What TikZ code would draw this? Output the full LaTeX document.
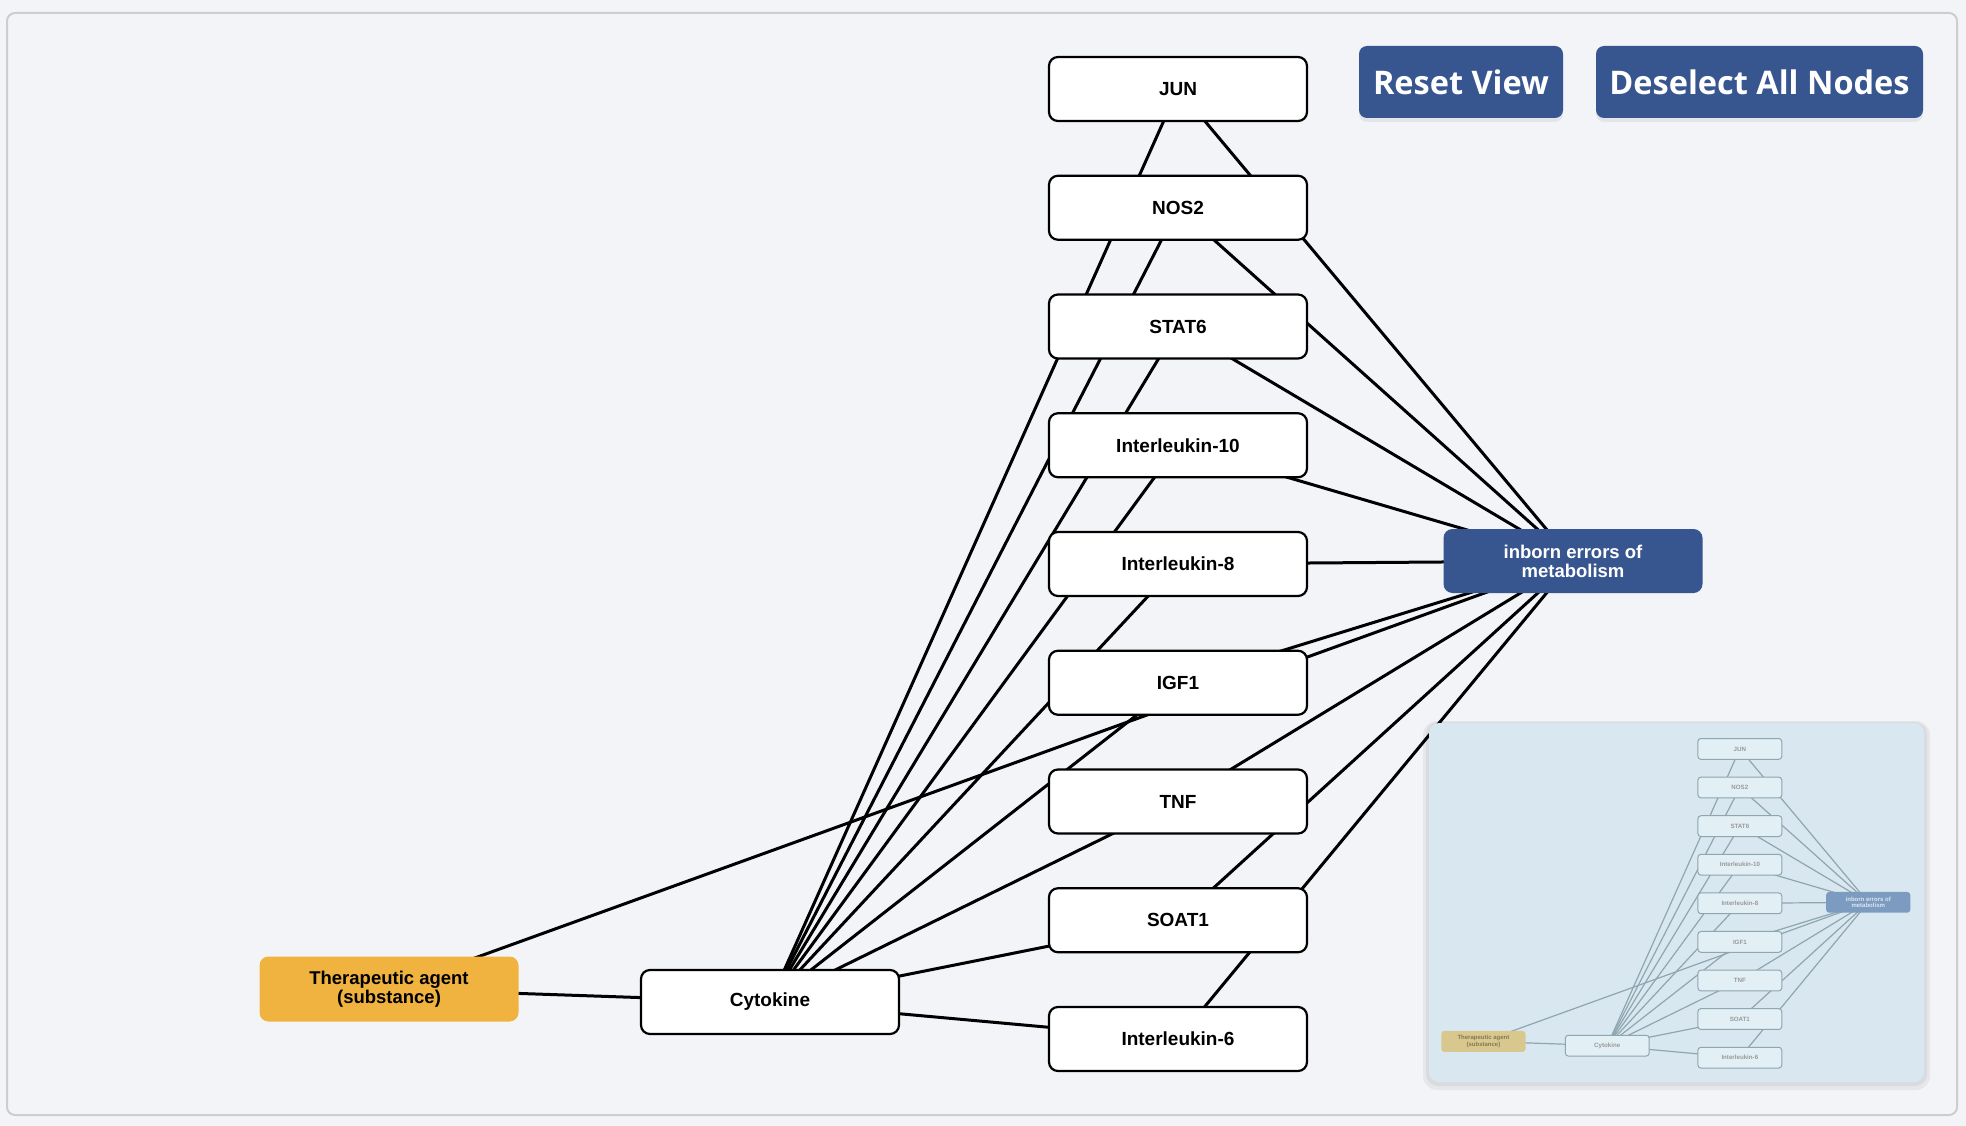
\documentclass[tikz,border=0pt]{standalone}
\usepackage{fontspec}
\setmainfont{Liberation Sans}
\newfontfamily\btnfont{Open Sans}
\usepackage{tikz}
\usetikzlibrary{shadows}

\definecolor{pagebg}{HTML}{F2F4F8}
\definecolor{framegray}{HTML}{CDCDCD}
\definecolor{navy}{HTML}{37558F}
\definecolor{amber}{HTML}{F0B33F}
\definecolor{mapbg}{HTML}{D9E8F0}
\definecolor{mapnode}{HTML}{E2EFF5}
\definecolor{mapline}{HTML}{8FA5AF}
\definecolor{mapnavy}{HTML}{7C9BC1}
\definecolor{mapamber}{HTML}{D9C88E}

\pgfdeclarelayer{back}
\pgfdeclarelayer{links}
\pgfdeclarelayer{nodes}
\pgfdeclarelayer{map}
\pgfdeclarelayer{maplinks}
\pgfdeclarelayer{mapnodes}
\pgfsetlayers{back,links,nodes,main,map,maplinks,mapnodes}

\newcommand\netdraw[3]{%
\begin{pgfonlayer}{#3}
\foreach \g/\t [count=\i from 0] in {jun/JUN,nos2/NOS2,stat6/STAT6,il10/Interleukin-10,il8/Interleukin-8,igf1/IGF1,tnf/TNF,soat1/SOAT1,il6/Interleukin-6}
  \node[gene] (#1\g) at (1178,{89+118.75*\i}) {\t};
\node[gene] (#1cyto) at (770,1002) {Cytokine};
\node[disease] (#1iem) at (1573,561) {inborn errors of\\metabolism};
\node[agent] (#1drug) at (389,989) {Therapeutic agent\\(substance)};
\end{pgfonlayer}
\begin{pgfonlayer}{#2}
\foreach \g in {jun,nos2,stat6,il10,il8,igf1,tnf,soat1,il6}
  \draw[link] (#1cyto.center) -- (#1\g.center) (#1\g.center) -- (#1iem.center);
\draw[link] (#1drug.center) -- (#1cyto.center) (#1drug.center) -- (#1iem.center);
\end{pgfonlayer}}

\begin{document}
\begin{tikzpicture}[x=1pt,y=-1pt,
  gene/.style={draw=black,line width=2.2pt,fill=white,rounded corners=9pt,minimum width=258pt,minimum height=64pt,inner sep=0pt,font=\bfseries\fontsize{19}{19}\selectfont},
  disease/.style={fill=navy,text=white,rounded corners=9pt,minimum width=259pt,minimum height=64pt,inner sep=0pt,align=center,font=\bfseries\fontsize{18.5}{19}\selectfont},
  agent/.style={fill=amber,text=black,rounded corners=9pt,minimum width=259pt,minimum height=65pt,inner sep=0pt,align=center,font=\bfseries\fontsize{18.5}{19}\selectfont},
  link/.style={line width=3pt,draw=black},
  btn/.style={fill=navy,text=white,rounded corners=8pt,minimum height=72pt,inner sep=0pt,font=\btnfont\bfseries\fontsize{32.5}{33}\selectfont,drop shadow={opacity=0.12,shadow xshift=0pt,shadow yshift=-4pt}}]
\useasboundingbox (0,0) rectangle (1966,1126);
\begin{pgfonlayer}{back}
\fill[pagebg] (0,0) rectangle (1966,1126);
\draw[framegray,line width=2pt,rounded corners=8pt] (7,13) rectangle (1957,1115);
\end{pgfonlayer}

\netdraw{}{links}{nodes}

\node[btn,minimum width=204pt] (reset) at (1461,82) {Reset View};
\node[btn,minimum width=327pt] (deselect) at (1759.5,82) {Deselect All Nodes};

\begin{pgfonlayer}{map}
\fill[black,opacity=0.05,rounded corners=14pt] (1423,721) rectangle (1930,1090);
\fill[black,opacity=0.05,rounded corners=12pt] (1426,722) rectangle (1927,1086);
\fill[mapbg,rounded corners=10pt] (1429,723) rectangle (1924,1082);
\end{pgfonlayer}
\begin{scope}[shift={(1357,720)},scale=0.325,transform shape,
  gene/.append style={fill=mapnode,draw=mapline,line width=1pt,text=black!40,rounded corners=3pt},
  disease/.append style={fill=mapnavy,text=white!75!mapnavy,rounded corners=3pt},
  agent/.append style={fill=mapamber,text=black!40!mapamber,rounded corners=3pt},
  link/.append style={line width=1.2pt,draw=mapline}]
\netdraw{m-}{maplinks}{mapnodes}
\end{scope}
\end{tikzpicture}
\end{document}
